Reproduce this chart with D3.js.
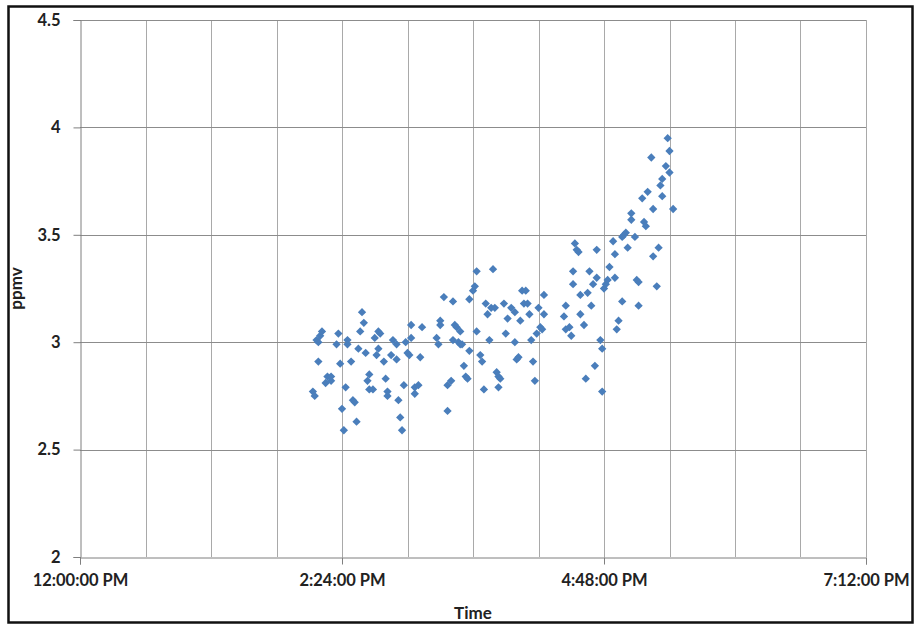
<!DOCTYPE html>
<html>
<head>
<meta charset="utf-8">
<script src="https://cdn.jsdelivr.net/npm/d3@7"></script>
<style>
  body { margin: 0; background: #fff; }
  svg text { font-family: Lato, "Open Sans", sans-serif; font-weight: bold; fill: #222; }
</style>
</head>
<body>
<svg id="chart"></svg>
<script>
// 1) Data ------------------------------------------------------------
const sampleTimes = [
  "14:08","14:09","14:10","14:11","14:11","14:12","14:13","14:15","14:16","14:18",
  "14:18","14:21","14:22","14:23","14:24","14:25","14:26","14:27","14:27","14:29",
  "14:30","14:31","14:32","14:33","14:34","14:35","14:36","14:37","14:38","14:39",
  "14:39","14:41","14:42","14:43","14:44","14:44","14:45","14:47","14:48","14:49",
  "14:49","14:51","14:52","14:54","14:54","14:55","14:56","14:57","14:58","14:59",
  "15:00","15:01","15:02","15:02","15:04","15:04","15:06","15:07","15:08","15:16",
  "15:17","15:18","15:18","15:20","15:22","15:22","15:24","15:25","15:25","15:26",
  "15:27","15:28","15:29","15:29","15:30","15:31","15:32","15:33","15:34","15:34",
  "15:36","15:37","15:38","15:38","15:40","15:41","15:42","15:43","15:44","15:45",
  "15:46","15:47","15:48","15:49","15:50","15:51","15:50","15:53","15:54","15:55",
  "15:57","15:59","15:59","16:00","16:01","16:02","16:03","16:04","16:05","16:06",
  "16:07","16:08","16:09","16:10","16:11","16:12","16:13","16:14","16:15","16:15",
  "16:26","16:27","16:27","16:29","16:30","16:31","16:31","16:32","16:33","16:34",
  "16:35","16:35","16:37","16:38","16:39","16:40","16:41","16:42","16:43","16:44",
  "16:44","16:46","16:47","16:47","16:48","16:49","16:50","16:51","16:53","16:54",
  "16:54","16:55","16:56","16:58","16:58","16:59","17:00","17:01","17:03","17:03",
  "17:05","17:06","17:07","17:07","17:09","17:10","17:11","17:12","17:14","17:15",
  "17:15","17:17","17:18","17:19","17:20","17:20","17:22","17:23","17:24","17:24",
  "17:26"
];
const ppmvValues = [
  2.77, 2.75, 3.01, 3.00, 2.91, 3.03, 3.05, 2.81, 2.84, 2.82,
  2.84, 2.99, 3.04, 2.90, 2.69, 2.59, 2.79, 2.99, 3.01, 2.91,
  2.73, 2.72, 2.63, 2.97, 3.05, 3.14, 3.09, 2.95, 2.82, 2.85,
  2.78, 2.78, 3.02, 2.94, 2.97, 3.05, 3.04, 2.91, 2.83, 2.77,
  2.75, 2.94, 3.01, 2.99, 2.92, 2.73, 2.65, 2.59, 2.80, 3.00,
  2.95, 2.94, 3.02, 3.08, 2.79, 2.76, 2.80, 2.93, 3.07, 3.02,
  2.99, 3.08, 3.10, 3.21, 2.80, 2.68, 2.82, 3.19, 3.01, 3.08,
  3.07, 3.00, 3.05, 2.99, 2.99, 2.89, 2.84, 2.83, 2.96, 3.20,
  3.24, 3.26, 3.33, 3.05, 2.94, 2.91, 2.78, 3.18, 3.13, 3.01,
  3.16, 3.34, 3.16, 2.86, 2.84, 2.83, 2.79, 3.18, 3.04, 3.11,
  3.16, 3.14, 3.00, 2.92, 2.93, 3.10, 3.24, 3.18, 3.24, 3.18,
  3.13, 3.01, 2.91, 2.82, 3.04, 3.16, 3.07, 3.06, 3.13, 3.22,
  3.12, 3.06, 3.17, 3.07, 3.03, 3.27, 3.33, 3.46, 3.43, 3.42,
  3.22, 3.13, 3.08, 2.83, 3.23, 3.33, 3.17, 3.27, 2.89, 3.43,
  3.30, 3.01, 2.77, 2.97, 3.25, 3.27, 3.29, 3.35, 3.47, 3.41,
  3.30, 3.06, 3.10, 3.19, 3.49, 3.50, 3.51, 3.44, 3.57, 3.60,
  3.49, 3.29, 3.28, 3.17, 3.67, 3.56, 3.54, 3.70, 3.86, 3.62,
  3.40, 3.26, 3.44, 3.73, 3.76, 3.68, 3.82, 3.95, 3.89, 3.79,
  3.62
];
const xRange = ["12:00", "19:12"];
const yTicks = [2, 2.5, 3, 3.5, 4, 4.5];
const xLabelTimes = ["12:00", "14:24", "16:48", "19:12"];
const gridStepMinutes = 36;

// 2) Dimensions -------------------------------------------------------
const width = 915;
const height = 625;
const margin = { top: 20, right: 49, bottom: 68, left: 80 };

const svg = d3.select('#chart')
  .attr('width', width)
  .attr('height', height);

const parseTime = d3.timeParse('%H:%M');
const points = sampleTimes.map((t, i) => ({ time: parseTime(t), value: ppmvValues[i] }));

const x = d3.scaleTime()
  .domain(xRange.map(parseTime))
  .range([margin.left, width - margin.right]);

const y = d3.scaleLinear()
  .domain([2, 4.5])
  .range([height - margin.bottom, margin.top]);

const gridColor = '#8c8c8c';
const axisColor = '#7f7f7f';

// 3) Outer frame ------------------------------------------------------
svg.append('rect')
  .attr('x', 8.5).attr('y', 6.5)
  .attr('width', 904).attr('height', 616)
  .attr('fill', 'none')
  .attr('stroke', '#111')
  .attr('stroke-width', 2.5);

// 4) Gridlines --------------------------------------------------------
const [x0, x1] = x.domain();
const gridTimes = d3.range(0, (x1 - x0) / 60000 + 1, gridStepMinutes)
  .map(m => d3.timeMinute.offset(x0, m));

svg.append('g')
  .selectAll('line')
  .data(gridTimes.slice(1))
  .join('line')
  .attr('x1', d => Math.round(x(d)) + 0.5)
  .attr('x2', d => Math.round(x(d)) + 0.5)
  .attr('y1', y(4.5))
  .attr('y2', y(2))
  .attr('stroke', gridColor)
  .attr('stroke-opacity', 0.75)
  .attr('stroke-width', 1);

svg.append('g')
  .selectAll('line')
  .data(yTicks.slice(1))
  .join('line')
  .attr('x1', x.range()[0])
  .attr('x2', x.range()[1])
  .attr('y1', d => Math.round(y(d)) + 0.5)
  .attr('y2', d => Math.round(y(d)) + 0.5)
  .attr('stroke', gridColor)
  .attr('stroke-width', 1);

// 5) Axes -------------------------------------------------------------
const yAxis = svg.append('g')
  .attr('transform', `translate(${margin.left + 0.5},0)`)
  .call(d3.axisLeft(y).tickValues(yTicks).tickSize(7).tickPadding(13)
    .tickFormat(d3.format('')));
yAxis.select('.domain').attr('stroke', axisColor);
yAxis.selectAll('.tick line').attr('stroke', axisColor);
yAxis.selectAll('text')
  .attr('font-size', 16.5)
  .attr('font-family', 'Lato, sans-serif');

const xAxis = svg.append('g')
  .attr('transform', `translate(0,${Math.round(y(2)) + 0.5})`)
  .call(d3.axisBottom(x).tickValues(xLabelTimes.map(parseTime)).tickSize(7).tickPadding(10)
    .tickFormat(d3.timeFormat('%-I:%M:%S %p')));
xAxis.select('.domain').attr('stroke', axisColor);
xAxis.selectAll('.tick line').attr('stroke', axisColor);
xAxis.selectAll('text')
  .attr('font-size', 16.5)
  .attr('font-family', 'Lato, sans-serif');

// 6) Axis titles ------------------------------------------------------
svg.append('text')
  .attr('x', (x.range()[0] + x.range()[1]) / 2)
  .attr('y', 619)
  .attr('text-anchor', 'middle')
  .attr('font-size', 17)
  .text('Time');

svg.append('text')
  .attr('transform', `translate(22,${(y(2) + y(4.5)) / 2}) rotate(-90)`)
  .attr('text-anchor', 'middle')
  .attr('font-size', 17)
  .text('ppmv');

// 7) Points -----------------------------------------------------------
svg.append('g')
  .selectAll('path')
  .data(points)
  .join('path')
  .attr('transform', d => `translate(${x(d.time)},${y(d.value)})`)
  .attr('d', d3.symbol(d3.symbolDiamond2, 44))
  .attr('fill', '#4a7ebb');
</script>
</body>
</html>
